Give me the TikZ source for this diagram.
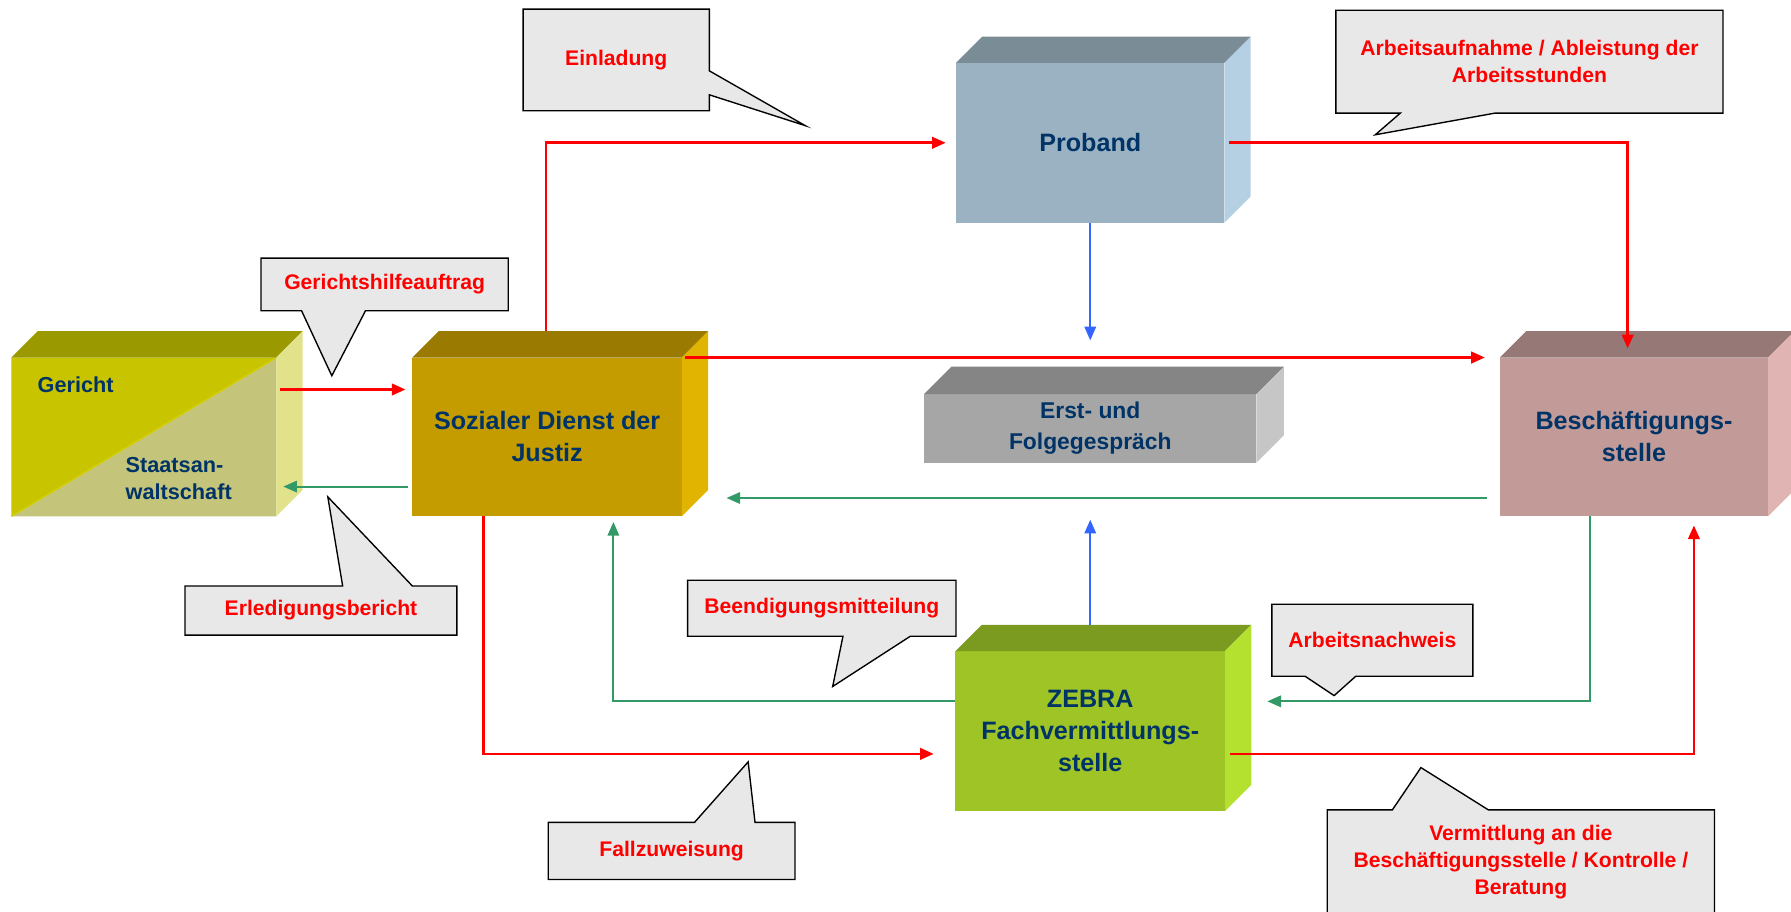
\documentclass[tikz,border=0pt]{standalone}
\usepackage{fontspec}
\setmainfont{Liberation Sans}
\usetikzlibrary{arrows.meta, calc, backgrounds}

\definecolor{navy}{RGB}{0,51,102}
\definecolor{bubblegray}{RGB}{232,232,232}
\definecolor{flowgreen}{RGB}{51,153,102}
\definecolor{flowblue}{RGB}{51,102,255}
% box colours: front / top / side
\definecolor{gerA}{RGB}{200,196,0}
\definecolor{gerB}{RGB}{196,196,122}
\definecolor{gerTop}{RGB}{154,154,0}
\definecolor{gerSide}{RGB}{226,226,138}
\definecolor{sozFront}{RGB}{196,156,0}
\definecolor{sozTop}{RGB}{154,122,0}
\definecolor{sozSide}{RGB}{224,180,0}
\definecolor{probFront}{RGB}{155,178,194}
\definecolor{probTop}{RGB}{122,140,150}
\definecolor{probSide}{RGB}{180,208,226}
\definecolor{erstFront}{RGB}{166,166,166}
\definecolor{erstTop}{RGB}{133,133,133}
\definecolor{erstSide}{RGB}{198,198,198}
\definecolor{beschFront}{RGB}{194,154,152}
\definecolor{beschTop}{RGB}{150,120,119}
\definecolor{beschSide}{RGB}{224,180,178}
\definecolor{zebFront}{RGB}{158,196,37}
\definecolor{zebTop}{RGB}{122,154,32}
\definecolor{zebSide}{RGB}{180,224,48}

% top and side face of a box node: name, top colour, side colour, depth
\newcommand\boxfaces[4]{%
  \fill[#2] (#1.north west) -- ++(#4,-#4) -- ($(#1.north east)+(#4,-#4)$) -- (#1.north east) -- cycle;
  \fill[#3] (#1.north east) -- ($(#1.north east)+(#4,-#4)$) -- ($(#1.south east)+(#4,-#4)$) -- (#1.south east) -- cycle;
}

\begin{document}
\begin{tikzpicture}[
    x=1pt, y=-1pt,
    front/.style = {inner sep=0pt, outer sep=0pt, align=center, text=navy,
      font=\bfseries\fontsize{22}{28}\selectfont},
    note/.style = {inner sep=0pt, outer sep=0pt, align=center, text=red,
      font=\bfseries\fontsize{18.5}{23.5}\selectfont},
    bubble/.style = {fill=bubblegray, draw=black, line width=1.2pt},
    redline/.style = {draw=red, line width=2.4pt, -{Triangle[length=12pt, width=10pt]}},
    greenline/.style = {draw=flowgreen, line width=1.8pt, -{Triangle[length=12pt, width=10pt]}},
    blueline/.style = {draw=flowblue, line width=1.8pt, -{Triangle[length=12pt, width=10pt]}}
  ]

  \useasboundingbox (0,0) rectangle (1568,798);
  \clip (0,0) rectangle (1568,798);

  % Gericht / Staatsanwaltschaft, split front face
  \node[front, minimum width=232pt, minimum height=139pt] (ger) at (126,382.5) {};
  \fill[gerA] (ger.south west) -- (ger.north west) -- (ger.north east) -- cycle;
  \fill[gerB] (ger.south west) -- (ger.north east) -- (ger.south east) -- cycle;
  \draw[gerA!80!yellow, line width=1.2pt] (ger.south west) -- (ger.north east);
  \boxfaces{ger}{gerTop}{gerSide}{23}
  \node[front, anchor=west, font=\bfseries\fontsize{19}{24}\selectfont] (gerlbl) at (33,337) {Gericht};
  \node[front, anchor=west, align=left, font=\bfseries\fontsize{19}{24}\selectfont] (stalbl) at (110,419) {Staatsan-\\waltschaft};

  % Sozialer Dienst der Justiz
  \node[front, fill=sozFront, minimum width=236pt, minimum height=139pt] (soz) at (479,382.5) {Sozialer Dienst der\\Justiz};
  \boxfaces{soz}{sozTop}{sozSide}{23}

  % Proband
  \node[front, fill=probFront, minimum width=235pt, minimum height=140pt] (prob) at (954.5,125) {Proband};
  \boxfaces{prob}{probTop}{probSide}{23}

  % Erst- und Folgegespraech
  \node[front, fill=erstFront, minimum width=291pt, minimum height=60pt, font=\bfseries\fontsize{20}{27}\selectfont] (erst) at (954.5,375) {Erst- und\\Folgegespräch};
  \boxfaces{erst}{erstTop}{erstSide}{24}

  % Beschaeftigungsstelle
  \node[front, fill=beschFront, minimum width=235pt, minimum height=139pt] (besch) at (1430.5,382.5) {Beschäftigungs-\\stelle};
  \boxfaces{besch}{beschTop}{beschSide}{23}

  % ZEBRA
  \node[front, fill=zebFront, minimum width=236pt, minimum height=140pt] (zebra) at (954.5,640) {ZEBRA\\Fachvermittlungs-\\stelle};
  \boxfaces{zebra}{zebTop}{zebSide}{23}

  % red flows
  \draw[redline] ($(soz.north)+(-1,-23)$) |- ($(prob.west)+(-9,0)$);
  \draw[redline] ($(prob.east)+(4,0)$) -| ($(besch.north)+(-5.5,-8)$);
  \draw[redline] ($(soz.north east)+(3,0)$) -- ($(besch.north west)+(-13,0)$);
  \draw[redline] ($(ger.east)+(3,-41.5)$) -- ($(soz.west)+(-6,-41.5)$);
  \draw[redline] ($(soz.south)+(-56,0)$) |- ($(zebra.west)+(-19,20)$);
  \draw[redline] ($(zebra.east)+(4,20)$) -| ($(besch.south)+(52.5,8)$);

  % green flows
  \draw[greenline] ($(soz.west)+(-4,43.5)$) -- ($(ger.east)+(6,43.5)$);
  \draw[greenline] ($(besch.west)+(-11,53.5)$) -- ($(soz.east)+(39,53.5)$);
  \draw[greenline] ($(zebra.west)+(0,-26)$) -| ($(soz.south)+(58,5)$);
  \draw[greenline] ($(besch.south)+(-38.5,0)$) |- ($(zebra.east)+(37,-26)$);

  % blue flows
  \draw[blueline] (prob.south) -- ($(erst.north)+(0,-47)$);
  \draw[blueline] ($(zebra.north)+(0,-23)$) -- ($(erst.south)+(0,50)$);

  % callouts
  \node[note, minimum width=163pt, minimum height=89pt] (einl) at (539.5,52.5) {Einladung};
  \node[note, minimum width=339pt, minimum height=90pt] (arb) at (1339,54) {Arbeitsaufnahme / Ableistung der\\Arbeitsstunden};
  \node[note, minimum width=216.5pt, minimum height=46pt] (gha) at (336.75,249) {Gerichtshilfeauftrag};
  \node[note, minimum width=238pt, minimum height=43pt] (erl) at (281,534.5) {Erledigungsbericht};
  \node[note, minimum width=235pt, minimum height=49pt] (bee) at (719.5,532.5) {Beendigungsmitteilung};
  \node[note, minimum width=176pt, minimum height=63pt] (anw) at (1201.5,560.5) {Arbeitsnachweis};
  \node[note, minimum width=216pt, minimum height=50pt] (fzw) at (588,745) {Fallzuweisung};
  \node[note, minimum width=339pt, minimum height=92pt] (ver) at (1331.5,755) {Vermittlung an die\\Beschäftigungsstelle / Kontrolle /\\Beratung};

  \begin{scope}[on background layer]
    \path[bubble] (einl.north west) -- (einl.north east) -- ($(einl.east)+(0,9.5)$) -- ($(einl.east)+(84,57.5)$)
      -- ($(einl.east)+(0,30.5)$) -- (einl.south east) -- (einl.south west) -- cycle;
    \path[bubble] (arb.north west) -- (arb.north east) -- (arb.south east) -- ($(arb.south)+(-30,0)$)
      -- ($(arb.south)+(-135,19)$) -- ($(arb.south)+(-113,0)$) -- (arb.south west) -- cycle;
    \path[bubble] (gha.north west) -- (gha.north east) -- (gha.south east) -- ($(gha.south)+(-16.75,0)$)
      -- ($(gha.south)+(-46.25,57)$) -- ($(gha.south)+(-72.75,0)$) -- (gha.south west) -- cycle;
    \path[bubble] (erl.north west) -- ($(erl.north)+(19,0)$) -- ($(erl.north)+(6,-78)$)
      -- ($(erl.north)+(80,0)$) -- (erl.north east) -- (erl.south east) -- (erl.south west) -- cycle;
    \path[bubble] (bee.north west) -- (bee.north east) -- (bee.south east) -- ($(bee.south)+(77.5,0)$)
      -- ($(bee.south)+(9.5,44)$) -- ($(bee.south)+(18.5,0)$) -- (bee.south west) -- cycle;
    \path[bubble] (anw.north west) -- (anw.north east) -- (anw.south east) -- ($(anw.south)+(-14.5,0)$)
      -- ($(anw.south)+(-33.5,17)$) -- ($(anw.south)+(-59,0)$) -- (anw.south west) -- cycle;
    \path[bubble] (fzw.north west) -- ($(fzw.north)+(20,0)$) -- ($(fzw.north)+(67,-53)$)
      -- ($(fzw.north)+(73,0)$) -- (fzw.north east) -- (fzw.south east) -- (fzw.south west) -- cycle;
    \path[bubble] (ver.north west) -- ($(ver.north)+(-112.5,0)$) -- ($(ver.north)+(-87.5,-37)$)
      -- ($(ver.north)+(-28.5,0)$) -- (ver.north east) -- (ver.south east) -- (ver.south west) -- cycle;
  \end{scope}

\end{tikzpicture}
\end{document}
